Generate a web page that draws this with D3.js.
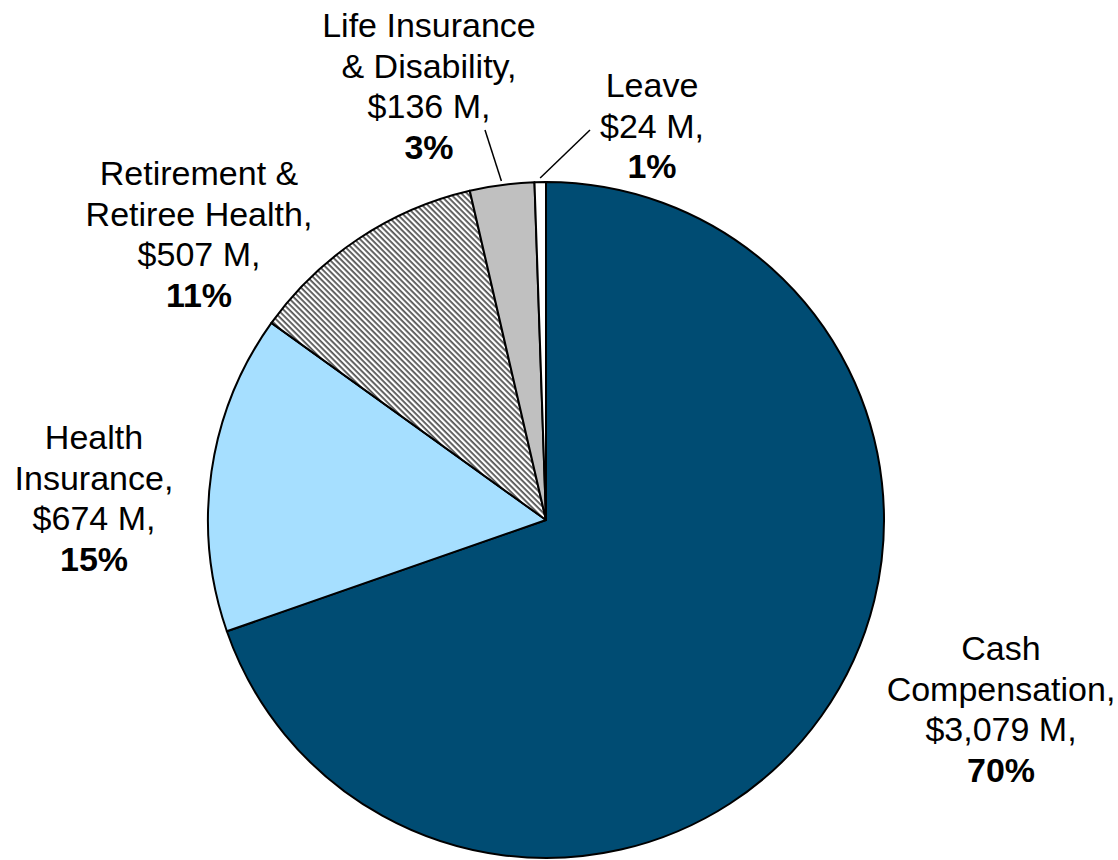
<!DOCTYPE html>
<html>
<head>
<meta charset="utf-8">
<script src="https://cdn.jsdelivr.net/npm/d3@7"></script>
<style>
  html, body { margin: 0; padding: 0; background: #fff; }
  svg text { font-family: "Liberation Sans", Arial, sans-serif; font-size: 34px; fill: #000; }
</style>
</head>
<body>
<svg id="chart" width="1118" height="860"></svg>
<script>
const categories = ["Cash Compensation", "Health Insurance", "Retirement & Retiree Health", "Life Insurance & Disability", "Leave"];
const values = [3079, 674, 507, 136, 24];
const labelLines = [
  ["Cash", "Compensation,", "$3,079 M,"],
  ["Health", "Insurance,", "$674 M,"],
  ["Retirement &", "Retiree Health,", "$507 M,"],
  ["Life Insurance", "& Disability,", "$136 M,"],
  ["Leave", "$24 M,"]
];
const percents = ["70%", "15%", "11%", "3%", "1%"];
const fills = ["#004c73", "#a6dfff", "url(#hatch)", "#c0c0c0", "#ffffff"];

const svg = d3.select("#chart");
const cx = 546, cy = 520, R = 338;

const defs = svg.append("defs");
const pat = defs.append("pattern")
  .attr("id", "hatch")
  .attr("patternUnits", "userSpaceOnUse")
  .attr("width", 4).attr("height", 4)
  .attr("patternTransform", "rotate(45)");
pat.append("rect").attr("width", 4).attr("height", 4).attr("fill", "#fff");
pat.append("rect").attr("width", 4).attr("height", 1.8).attr("fill", "#555");

const data = categories.map((c, i) => ({ cat: c, value: values[i], i }));
const pie = d3.pie().value(d => d.value).sort(null);
const arc = d3.arc().innerRadius(0).outerRadius(R);
const g = svg.append("g").attr("transform", `translate(${cx},${cy})`);

g.selectAll("path.slice")
  .data(pie(data))
  .join("path")
  .attr("class", "slice")
  .attr("d", arc)
  .attr("fill", d => fills[d.data.i])
  .attr("stroke", "#000")
  .attr("stroke-width", 2)
  .attr("stroke-linejoin", "round");

// Label anchor positions (centre x, first baseline)
const labelPos = [
  [1001, 660],
  [94, 449],
  [199, 185],
  [429, 37],
  [652, 97]
];
const lineH = 40.5;

labelLines.forEach((lines, i) => {
  const [x, y0] = labelPos[i];
  const t = svg.append("text").attr("text-anchor", "middle");
  lines.forEach((l, k) => {
    t.append("tspan").attr("x", x).attr("y", y0 + k * lineH).text(l);
  });
  t.append("tspan").attr("x", x).attr("y", y0 + lines.length * lineH)
    .attr("font-weight", "bold").text(percents[i]);
});

// Leader lines for small slices, starting at the slice's outer edge
const arcs = pie(data);
const leaders = [
  { i: 3, end: [485, 130] },
  { i: 4, end: [590, 130] }
];
leaders.forEach(l => {
  const a = arcs[l.i];
  const mid = (a.startAngle + a.endAngle) / 2;
  const x1 = cx + (R + 4) * Math.sin(mid);
  const y1 = cy - (R + 4) * Math.cos(mid);
  svg.append("line")
    .attr("x1", x1).attr("y1", y1)
    .attr("x2", l.end[0]).attr("y2", l.end[1])
    .attr("stroke", "#000").attr("stroke-width", 1.5);
});
</script>
</body>
</html>
